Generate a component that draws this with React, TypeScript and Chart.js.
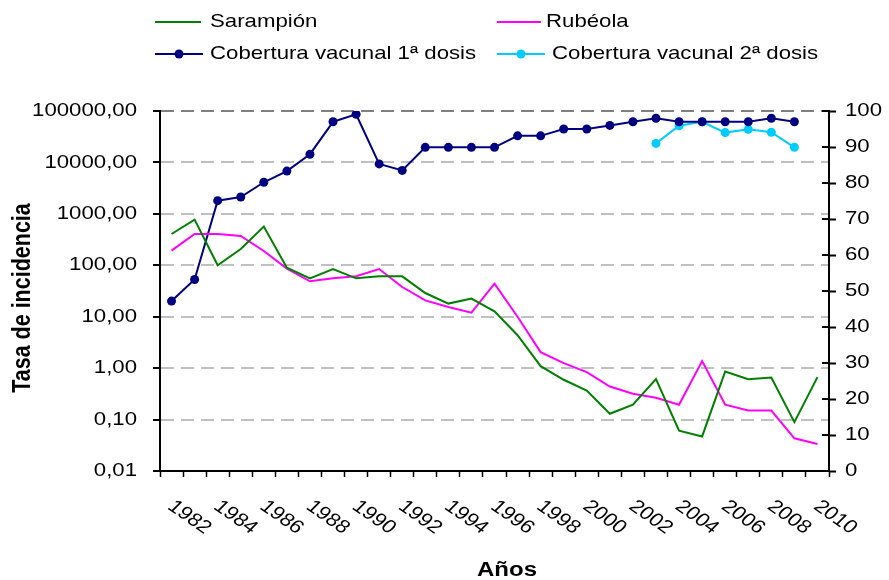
import React, { useEffect, useRef } from 'react';
import { Chart, registerables } from 'chart.js';
Chart.register(...registerables);

const years = ['1982', '1983', '1984', '1985', '1986', '1987', '1988', '1989', '1990', '1991', '1992', '1993', '1994', '1995', '1996', '1997', '1998', '1999', '2000', '2001', '2002', '2003', '2004', '2005', '2006', '2007', '2008', '2009', '2010'];
const sarampion = [406, 774, 100, 207, 566, 90, 55.8, 84.7, 55.8, 61, 61, 28.9, 18.0, 22.5, 12.7, 4.37, 1.09, 0.594, 0.368, 0.13, 0.194, 0.61, 0.061, 0.047, 0.86, 0.61, 0.66, 0.089, 0.67];
const rubeola = [193, 406, 406, 371, 190, 86, 48.9, 55.8, 61, 84.7, 37.8, 20.8, 15.5, 12.0, 44, 10, 2.05, 1.25, 0.836, 0.44, 0.318, 0.266, 0.194, 1.37, 0.195, 0.15, 0.15, 0.0433, 0.0336];
const cobertura1 = [47.2, 53.2, 75.1, 76.1, 80.2, 83.3, 88.0, 97.0, 99.1, 85.3, 83.5, 89.9, 89.9, 89.9, 89.9, 93.1, 93.1, 95, 95, 96, 97, 98, 97, 97, 97, 97, 98, 97, null];
const cobertura2 = [null, null, null, null, null, null, null, null, null, null, null, null, null, null, null, null, null, null, null, null, null, 91.0, 95.9, 97, 94.0, 94.9, 94.1, 89.9, null];
const leftTicks = [0.01, 0.1, 1, 10, 100, 1000, 10000, 100000];
const rightTicks = [0, 10, 20, 30, 40, 50, 60, 70, 80, 90, 100];
const seriesNames = ['Sarampión', 'Rubéola', 'Cobertura vacunal 1ª dosis', 'Cobertura vacunal 2ª dosis'];
const xTitle = 'Años';
const yTitle = 'Tasa de incidencia';

const FONT = "'Liberation Sans', Arial, sans-serif";
const COLORS = ['#008000', '#ff00ff', '#000080', '#00ccff'];
const TEXT_STRETCH = 1.2;

function stretchText(ctx: any) {
  if (ctx.__stretched) return;
  ctx.__stretched = true;
  const orig = ctx.fillText;
  ctx.fillText = function (text: string, x: number, y: number, maxWidth?: number) {
    const m = this.getTransform();
    const p = m.transformPoint(new DOMPoint(x, y));
    const nm = new DOMMatrix().translate(p.x, p.y).scale(TEXT_STRETCH, 1).translate(-p.x, -p.y).multiply(m);
    this.save();
    this.setTransform(nm);
    if (maxWidth === undefined || maxWidth === null) orig.call(this, text, x, y);
    else orig.call(this, text, x, y, maxWidth);
    this.restore();
  };
}

export default function App() {
  const ref = useRef<HTMLCanvasElement>(null);
  useEffect(() => {
    document.body.style.margin = '0';
    const canvas = ref.current!;
    stretchText(canvas.getContext('2d'));
    const overlay = {
      id: 'overlay',
      afterDraw(chart: any) {
        const ctx = chart.ctx;
        const x = chart.scales.x;
        const y2 = chart.scales.y2;
        const area = chart.chartArea;
        ctx.save();
        ctx.strokeStyle = '#000';
        ctx.lineWidth = 2;
        y2.ticks.forEach((t: any, i: number) => {
          const py = y2.getPixelForTick(i);
          ctx.beginPath();
          ctx.moveTo(area.right - 7, py);
          ctx.lineTo(area.right, py);
          ctx.stroke();
        });
        ctx.fillStyle = '#000';
        ctx.font = `18.5px ${FONT}`;
        ctx.textAlign = 'left';
        ctx.textBaseline = 'top';
        years.forEach((lab, i) => {
          if (i % 2 !== 0) return;
          const px = x.getPixelForTick(i);
          ctx.save();
          ctx.translate(px + 6, area.bottom + 26);
          ctx.rotate((40 * Math.PI) / 180);
          ctx.fillText(lab, 0, 0);
          ctx.restore();
        });
        // axis titles
        ctx.font = `bold 20px ${FONT}`;
        ctx.textAlign = 'center';
        ctx.textBaseline = 'middle';
        ctx.fillText(xTitle, 507, 570);
        ctx.save();
        ctx.translate(23, 298);
        ctx.rotate(-Math.PI / 2);
        ctx.font = `bold 21.5px ${FONT}`;
        ctx.fillText(yTitle, 0, 0);
        ctx.restore();
        // legend
        ctx.font = `18.5px ${FONT}`;
        ctx.textAlign = 'left';
        const items = [
          { lx: 155, ly: 22, w: 46, tx: 210, dot: false },
          { lx: 497, ly: 22, w: 44, tx: 546, dot: false },
          { lx: 155, ly: 54, w: 48, tx: 210, dot: true },
          { lx: 497, ly: 54, w: 48, tx: 552, dot: true },
        ];
        items.forEach((it, i) => {
          const ds = chart.data.datasets[i];
          ctx.strokeStyle = ds.borderColor;
          ctx.lineWidth = 2;
          ctx.beginPath();
          ctx.moveTo(it.lx, it.ly);
          ctx.lineTo(it.lx + it.w, it.ly);
          ctx.stroke();
          if (it.dot) {
            ctx.fillStyle = ds.borderColor;
            ctx.beginPath();
            ctx.arc(it.lx + it.w / 2, it.ly, 4.5, 0, Math.PI * 2);
            ctx.fill();
          }
          ctx.fillStyle = '#000';
          ctx.textBaseline = 'middle';
          ctx.fillText(ds.label, it.tx, it.ly);
        });
        ctx.restore();
      },
    };

    const chart = new Chart(canvas, {
      type: 'line',
      data: {
        labels: years,
        datasets: [
          { label: seriesNames[0], data: sarampion, borderColor: COLORS[0], backgroundColor: COLORS[0], borderWidth: 2, pointRadius: 0, yAxisID: 'y', tension: 0 },
          { label: seriesNames[1], data: rubeola, borderColor: COLORS[1], backgroundColor: COLORS[1], borderWidth: 2, pointRadius: 0, yAxisID: 'y', tension: 0 },
          { label: seriesNames[2], data: cobertura1, borderColor: COLORS[2], backgroundColor: COLORS[2], borderWidth: 2, pointRadius: 4.5, pointBorderWidth: 0, yAxisID: 'y2', tension: 0 },
          { label: seriesNames[3], data: cobertura2, borderColor: COLORS[3], backgroundColor: COLORS[3], borderWidth: 2, pointRadius: 4.5, pointBorderWidth: 0, yAxisID: 'y2', tension: 0 },
        ],
      },
      options: {
        responsive: false,
        animation: false,
        devicePixelRatio: 1,
        layout: { padding: { top: 111, left: 0, right: 0, bottom: 0 } },
        plugins: { legend: { display: false }, tooltip: { enabled: false } },
        scales: {
          x: {
            type: 'category',
            offset: true,
            afterFit: (s: any) => { s.height = 109; },
            grid: { offset: true, drawOnChartArea: false, drawTicks: true, tickLength: 6, tickColor: '#000', tickWidth: 1.5 },
            border: { color: '#000', width: 2 },
            ticks: { display: false },
          },
          y: {
            type: 'logarithmic',
            position: 'left',
            min: 0.01,
            max: 100000,
            afterFit: (s: any) => { s.width = 160; },
            afterBuildTicks: (s: any) => { s.ticks = leftTicks.map((v) => ({ value: v })); },
            ticks: {
              color: '#000',
              font: { family: FONT, size: 18.5 },
              padding: 16,
              callback: (v: any) => Number(v).toFixed(2).replace('.', ','),
            },
            grid: {
              color: (c: any) => (c.tick && c.tick.value === 100000 ? '#808080' : c.tick && c.tick.value === 0.01 ? 'rgba(0,0,0,0)' : '#c0c0c0'),
              lineWidth: 2,
              drawTicks: true,
              tickLength: 7,
              tickColor: '#000',
              tickWidth: 2,
              tickBorderDash: [],
            },
            border: { color: '#000', width: 2, dash: [13, 7] },
          },
          y2: {
            type: 'linear',
            position: 'right',
            min: 0,
            max: 100,
            afterFit: (s: any) => { s.width = 60; },
            afterBuildTicks: (s: any) => { s.ticks = rightTicks.map((v) => ({ value: v })); },
            ticks: { color: '#000', font: { family: FONT, size: 18.5 }, padding: 9 },
            grid: { drawOnChartArea: false, drawTicks: true, tickLength: 7, tickColor: '#000', tickWidth: 2 },
            border: { color: '#000', width: 2 },
          },
        },
      } as any,
      plugins: [overlay],
    });
    return () => chart.destroy();
  }, []);
  return (
    <div style={{ position: 'absolute', left: 0, top: 0, width: 889, height: 580 }}>
      <canvas ref={ref} width={889} height={580} style={{ display: 'block', width: 889, height: 580 }} />
    </div>
  );
}
